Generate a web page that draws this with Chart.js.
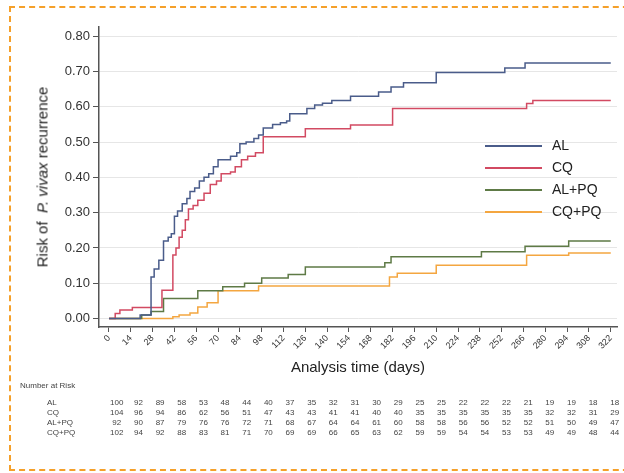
<!DOCTYPE html>
<html>
<head>
<meta charset="utf-8">
<script src="https://cdn.jsdelivr.net/npm/chart.js@4"></script>
<style>
  html, body { margin: 0; padding: 0; background: #ffffff; }
  #wrap { position: relative; width: 624px; height: 473px; overflow: hidden; font-family: "Liberation Sans", Arial, sans-serif; }
  #c { position: absolute; left: 0; top: 0; }
  #frame { position: absolute; left: 9px; top: 6px; width: 640px; height: 465px; border: 2px dashed #f5a02a; box-sizing: border-box; pointer-events: none; }
  #ytitle { position: absolute; left: 42px; top: 177px; transform: translate(-50%, -50%) rotate(-90deg); white-space: nowrap; font-size: 15px; color: #222; }
  .leg { position: absolute; left: 485px; height: 14px; font-size: 14px; color: #222; }
  .leg span.ln { position: absolute; left: 0; top: 7px; width: 57px; height: 2px; }
  .leg span.tx { position: absolute; left: 67px; top: -1px; white-space: nowrap; }
  .risk { position: absolute; font-size: 8px; color: #444; white-space: nowrap; }
  .rv { position: absolute; font-size: 8px; color: #444; transform: translateX(-50%); white-space: nowrap; }
</style>
</head>
<body>
<div id="wrap">
  <canvas id="c" width="624" height="473"></canvas>
  <div id="ytitle">Risk of &nbsp;<i>P. vivax</i> recurrence</div>
  <div id="legend"></div>
  <div id="risk"></div>
  <div id="frame"></div>
</div>
<script>
// ---- Data ----
const seriesNames = ["AL", "CQ", "AL+PQ", "CQ+PQ"];
const seriesColors = ["#4a5c8a", "#d24a62", "#5e7a46", "#f4a640"];

const alDays   = [0, 20, 27, 29, 32, 35, 38, 40, 42, 44, 47, 50, 52, 55, 58, 61, 64, 67, 70, 78, 82, 84, 88, 93, 96, 99, 105, 110, 114, 116, 127, 132, 137, 143, 155, 173, 181, 189, 210, 254, 267, 322];
const alRisk   = [0, 0.01, 0.118, 0.14, 0.165, 0.22, 0.23, 0.24, 0.29, 0.305, 0.325, 0.34, 0.36, 0.37, 0.39, 0.40, 0.41, 0.43, 0.45, 0.46, 0.47, 0.495, 0.50, 0.51, 0.52, 0.54, 0.55, 0.555, 0.56, 0.58, 0.595, 0.605, 0.61, 0.618, 0.63, 0.642, 0.656, 0.668, 0.697, 0.71, 0.724, 0.724];

const cqDays   = [0, 4, 7, 15, 34, 41, 43, 45, 47, 49, 51, 54, 57, 61, 65, 69, 72, 78, 81, 85, 89, 94, 99, 126, 155, 182, 268, 272, 322];
const cqRisk   = [0, 0.014, 0.024, 0.031, 0.08, 0.18, 0.2, 0.23, 0.25, 0.28, 0.31, 0.32, 0.335, 0.355, 0.38, 0.39, 0.41, 0.415, 0.43, 0.45, 0.46, 0.47, 0.515, 0.538, 0.548, 0.595, 0.609, 0.618, 0.618];

const alpqDays = [0, 21, 27, 35, 57, 73, 87, 98, 115, 126, 177, 181, 239, 267, 295, 322];
const alpqRisk = [0, 0.01, 0.02, 0.057, 0.079, 0.09, 0.10, 0.115, 0.125, 0.146, 0.158, 0.175, 0.189, 0.205, 0.22, 0.22];

const cqpqDays = [0, 41, 45, 52, 57, 63, 70, 96, 180, 185, 210, 268, 295, 322];
const cqpqRisk = [0, 0.005, 0.01, 0.016, 0.033, 0.045, 0.079, 0.092, 0.118, 0.128, 0.151, 0.179, 0.186, 0.186];

const xTickDays = [0, 14, 28, 42, 56, 70, 84, 98, 112, 126, 140, 154, 168, 182, 196, 210, 224, 238, 252, 266, 280, 294, 308, 322];
const yTickValues = [0, 0.1, 0.2, 0.3, 0.4, 0.5, 0.6, 0.7, 0.8];

const riskTitle = "Number at Risk";
const riskAL   = [100, 92, 89, 58, 53, 48, 44, 40, 37, 35, 32, 31, 30, 29, 25, 25, 22, 22, 22, 21, 19, 19, 18, 18];
const riskCQ   = [104, 96, 94, 86, 62, 56, 51, 47, 43, 43, 41, 41, 40, 40, 35, 35, 35, 35, 35, 35, 32, 32, 31, 29];
const riskALPQ = [92, 90, 87, 79, 76, 76, 72, 71, 68, 67, 64, 64, 61, 60, 58, 58, 56, 56, 52, 52, 51, 50, 49, 47];
const riskCQPQ = [102, 94, 92, 88, 83, 81, 71, 70, 69, 69, 66, 65, 63, 62, 59, 59, 54, 54, 53, 53, 49, 49, 48, 44];

// ---- Build chart ----
const dayLists = [alDays, cqDays, alpqDays, cqpqDays];
const riskLists = [alRisk, cqRisk, alpqRisk, cqpqRisk];
const datasets = seriesNames.map((n, i) => ({
  label: n,
  data: dayLists[i].map((d, k) => ({ x: d, y: riskLists[i][k] })),
  borderColor: seriesColors[i],
  backgroundColor: seriesColors[i],
  borderWidth: 1.5,
  pointRadius: 0,
  stepped: 'before',
  fill: false
}));

const FONT = "'Liberation Sans', Arial, sans-serif";

new Chart(document.getElementById('c'), {
  type: 'line',
  data: { datasets: datasets },
  options: {
    responsive: false,
    animation: false,
    events: [],
    layout: { padding: { left: 0, right: 7, top: 27, bottom: 96 } },
    plugins: { legend: { display: false }, tooltip: { enabled: false } },
    scales: {
      x: {
        type: 'linear',
        min: -6.4,
        max: 326,
        afterBuildTicks: s => { s.ticks = xTickDays.map(v => ({ value: v })); },
        afterFit: s => { s.height = 50; },
        ticks: {
          autoSkip: false, minRotation: 45, maxRotation: 45,
          font: { family: FONT, size: 9 }, color: '#333', padding: 1,
          callback: v => String(v)
        },
        grid: { drawOnChartArea: false, drawTicks: true, tickLength: 5, tickColor: '#555', tickWidth: 1 },
        border: { display: true, color: '#555', width: 1.5 },
        title: { display: true, text: 'Analysis time (days)', font: { family: FONT, size: 15 }, color: '#222', padding: { top: 0, bottom: 0 } }
      },
      y: {
        type: 'linear',
        min: -0.024,
        max: 0.826,
        afterBuildTicks: s => { s.ticks = yTickValues.map(v => ({ value: v })); },
        afterFit: s => { s.width = 99; },
        ticks: { font: { family: FONT, size: 13 }, color: '#333', padding: 3, callback: v => Number(v).toFixed(2) },
        grid: { color: '#e6e6e6', lineWidth: 1, drawTicks: true, tickLength: 6, tickColor: '#555', tickWidth: 1 },
        border: { display: true, color: '#555', width: 1.5 }
      }
    }
  }
});

// ---- Legend (HTML text) ----
const legendTops = [138, 160, 182, 204];
const legEl = document.getElementById('legend');
seriesNames.forEach((n, i) => {
  const d = document.createElement('div');
  d.className = 'leg';
  d.style.top = legendTops[i] + 'px';
  d.innerHTML = '<span class="ln" style="background:' + seriesColors[i] + '"></span><span class="tx">' + n + '</span>';
  legEl.appendChild(d);
});

// ---- Number at risk table (HTML text) ----
const riskEl = document.getElementById('risk');
const riskRows = [riskAL, riskCQ, riskALPQ, riskCQPQ];
const rowTops = [398, 408, 418, 428];
const t = document.createElement('div');
t.className = 'risk'; t.style.left = '20px'; t.style.top = '381px'; t.textContent = riskTitle;
riskEl.appendChild(t);
riskRows.forEach((row, r) => {
  const lab = document.createElement('div');
  lab.className = 'risk'; lab.style.left = '47px'; lab.style.top = rowTops[r] + 'px';
  lab.textContent = seriesNames[r];
  riskEl.appendChild(lab);
  row.forEach((v, i) => {
    const c = document.createElement('div');
    c.className = 'rv';
    c.style.left = (116.8 + 21.65 * i) + 'px';
    c.style.top = rowTops[r] + 'px';
    c.textContent = v;
    riskEl.appendChild(c);
  });
});
</script>
</body>
</html>
